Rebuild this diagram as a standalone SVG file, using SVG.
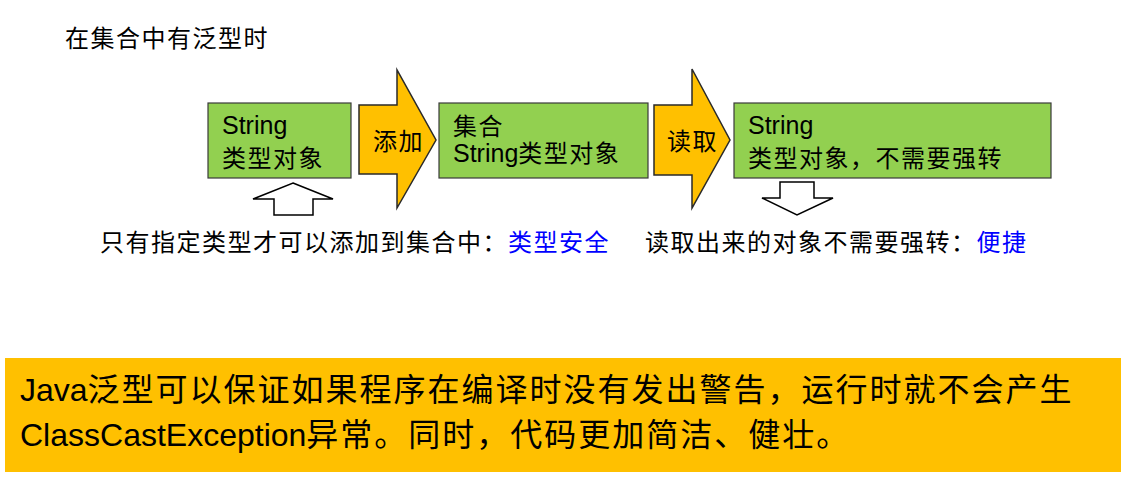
<svg xmlns="http://www.w3.org/2000/svg" width="1121" height="486" viewBox="0 0 1121 486">
  <style>
    text { font-family: "Liberation Sans", "Noto Sans CJK SC", sans-serif; fill: #000; }
    .t24 { font-size: 24px; }
    .t25 { font-size: 25px; }
    .cjk { letter-spacing: 1.5px; }
    .box { fill: #92D050; stroke: #3a3a3a; stroke-width: 1.2; }
    .yarrow { fill: #FFC000; stroke: #2a2a2a; stroke-width: 1.5; stroke-linejoin: miter; }
    .hollow { fill: #fff; stroke: #000; stroke-width: 1.5; }
    .blue { fill: #0000FF; }
    .band { font-size: 32px; }
    .bandcjk { letter-spacing: 2px; }
  </style>
  <rect width="1121" height="486" fill="#fff"/>

  <g id="title">
    <text class="t24 cjk" x="65" y="47">在集合中有泛型时</text>
  </g>

  <g id="node-string-object">
    <rect class="box" x="208" y="103" width="143" height="75"/>
    <text class="t25" x="222" y="134">String</text>
    <text class="t24 cjk" x="222" y="167">类型对象</text>
  </g>

  <g id="node-add">
    <polygon class="yarrow" points="359,105 397,105 397,70 436,140 397,208 397,174 359,174"/>
    <text class="t24 cjk" x="373" y="150">添加</text>
  </g>

  <g id="node-collection">
    <rect class="box" x="439" y="103" width="209" height="75"/>
    <text class="t24 cjk" x="453" y="135">集合</text>
    <text class="t25" x="453" y="162">String<tspan class="cjk" font-size="24">类型对象</tspan></text>
  </g>

  <g id="node-read">
    <polygon class="yarrow" points="654,105 692,105 692,69 730,140 692,208 692,175 654,175"/>
    <text class="t24 cjk" x="667" y="150">读取</text>
  </g>

  <g id="node-string-result">
    <rect class="box" x="734" y="103" width="317" height="75"/>
    <text class="t25" x="748" y="134">String</text>
    <text class="t24 cjk" x="748" y="167">类型对象，不需要强转</text>
  </g>

  <g id="connectors">
    <polygon class="hollow" points="293,183 333,199 313,199 313,215 274,215 274,199 253,199"/>
    <polygon class="hollow" points="780,182 814,182 814,198 833,198 797,215 762,198 780,198"/>
  </g>

  <g id="caption">
    <text class="t24 cjk" x="100" y="251">只有指定类型才可以添加到集合中：<tspan class="blue">类型安全</tspan></text>
    <text class="t24 cjk" x="645" y="251">读取出来的对象不需要强转：<tspan class="blue">便捷</tspan></text>
  </g>

  <g id="summary">
    <rect x="5" y="358" width="1116" height="114" fill="#FFC000"/>
    <text class="band" x="20" y="401">Java<tspan class="bandcjk">泛型可以保证如果程序在编译时没有发出警告，运行时就不会产生</tspan></text>
    <text class="band" x="20" y="446">ClassCastException<tspan class="bandcjk">异常。同时，代码更加简洁、健壮。</tspan></text>
  </g>
</svg>
